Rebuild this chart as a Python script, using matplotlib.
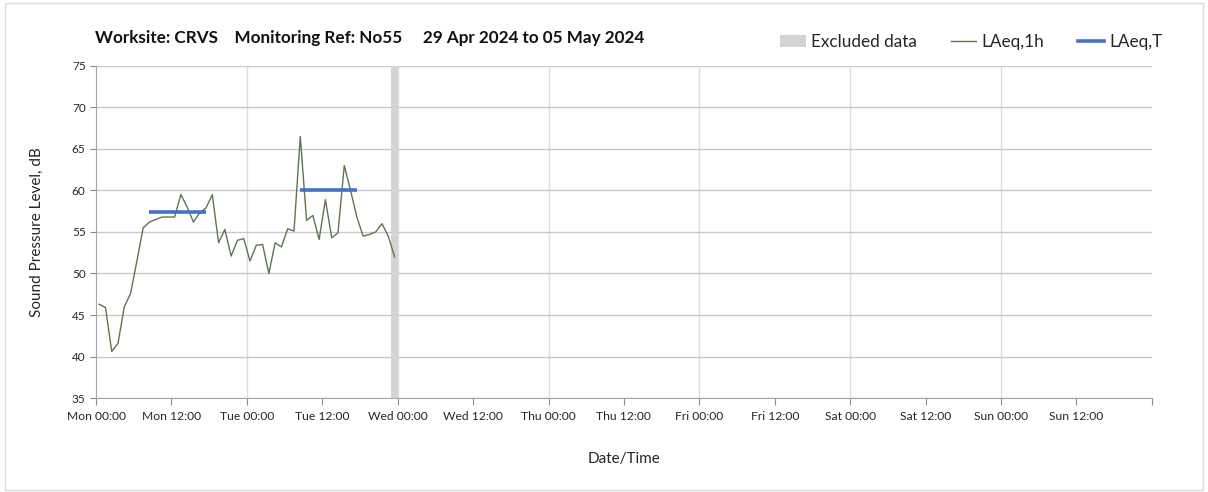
"""
plot.py

Noise monitoring chart: hourly LAeq with period LAeq,T and excluded data.
"""
import matplotlib
matplotlib.use("Agg")
import matplotlib.pyplot as plt
import pandas as pd
from matplotlib.lines import Line2D
from matplotlib.patches import Patch, Rectangle

# ---- data ----
title = "Worksite: CRVS    Monitoring Ref: No55     29 Apr 2024 to 05 May 2024"
week_start = pd.Timestamp("2024-04-29 00:00")
week_end = pd.Timestamp("2024-05-06 00:00")

hour_times = pd.date_range("2024-04-29 00:30", periods=48, freq="h")
laeq_1h = [
    46.3, 45.9, 40.6, 41.6, 46.0, 47.6, 51.5, 55.5, 56.2, 56.5,
    56.8, 56.8, 56.8, 59.5, 58.0, 56.2, 57.3, 57.9, 59.5, 53.7,
    55.3, 52.1, 54.0, 54.2, 51.5, 53.4, 53.5, 50.0, 53.7, 53.2,
    55.4, 55.1, 66.5, 56.4, 57.0, 54.1, 58.9, 54.3, 54.9, 63.0,
    60.0, 56.8, 54.5, 54.7, 55.0, 56.0, 54.5, 52.0,
]

# LAeq,T day periods (start index, end index into hour_times, level)
laeq_t_periods = [(8, 17, 57.4), (32, 41, 60.1)]

excluded = [(pd.Timestamp("2024-04-30 23:00"), pd.Timestamp("2024-05-01 00:00"))]

y_ticks = [35, 40, 45, 50, 55, 60, 65, 70, 75]

# ---- style ----
plt.rcParams["font.family"] = ["Lato", "DejaVu Sans"]
text_col = "#262626"
grid_col = "#c8c8c8"
green = "#5d7650"
blue = "#4472c4"
grey_band = "#d4d4d4"

fig = plt.figure(figsize=(12.08, 4.92), dpi=100)
ax = fig.add_axes([0.0795, 0.191, 0.874, 0.675])

# outer border
fig.patches.append(Rectangle((0.004, 0.004), 0.992, 0.99, transform=fig.transFigure,
                             fill=False, edgecolor="#dcdcdc", linewidth=1))

for start, end in excluded:
    ax.axvspan(start, end, color=grey_band, linewidth=0, zorder=1)

ax.plot(hour_times, laeq_1h, color=green, linewidth=1.0, zorder=3)
for i0, i1, level in laeq_t_periods:
    ax.plot([hour_times[i0], hour_times[i1]], [level, level],
            color=blue, linewidth=2.6, zorder=4, solid_capstyle="butt")

ax.set_xlim(week_start, week_end)
ax.set_ylim(35, 75)
ax.set_yticks(y_ticks)
ax.tick_params(axis="y", labelsize=8.5, colors="#8c8c8c", labelcolor=text_col,
               length=4, direction="out")

major = pd.date_range(week_start, week_end, freq="12h")
ax.set_xticks(major)
labels = [t.strftime("%a %H:%M") for t in major]
labels[-1] = ""
ax.set_xticklabels(labels)
ax.tick_params(axis="x", labelsize=8.7, colors="#8c8c8c", labelcolor=text_col,
               length=5, direction="out", pad=4)

# grid: horizontal every 5 dB, vertical at day boundaries
ax.grid(axis="y", color=grid_col, linewidth=1.0, zorder=0)
for day in pd.date_range(week_start, week_end, freq="D")[1:-1]:
    ax.axvline(day, color="#dedede", linewidth=1.0, zorder=0)

for side in ("top", "right"):
    ax.spines[side].set_visible(False)
ax.spines["left"].set_color("#a6a6a6")
ax.spines["bottom"].set_color("#a6a6a6")
ax.set_axisbelow(True)

ax.set_ylabel("Sound Pressure Level, dB", fontsize=11, color=text_col, labelpad=20)
ax.set_xlabel("Date/Time", fontsize=11, color=text_col, labelpad=22)

fig.text(0.079, 0.922, title, fontsize=12.3, fontweight="bold", color="#111111",
         ha="left", va="center")

handles = [
    Patch(facecolor=grey_band, edgecolor="none"),
    Line2D([], [], color=green, linewidth=1.0),
    Line2D([], [], color=blue, linewidth=2.6),
]
fig.legend(handles, ["Excluded data", "LAeq,1h", "LAeq,T"], ncol=3,
           loc="center right", bbox_to_anchor=(0.975, 0.915), frameon=False,
           fontsize=12.3, handlelength=1.5, handleheight=0.7, handletextpad=0.3,
           columnspacing=2.0, labelcolor=text_col)

fig.savefig("out.png", dpi=100)
